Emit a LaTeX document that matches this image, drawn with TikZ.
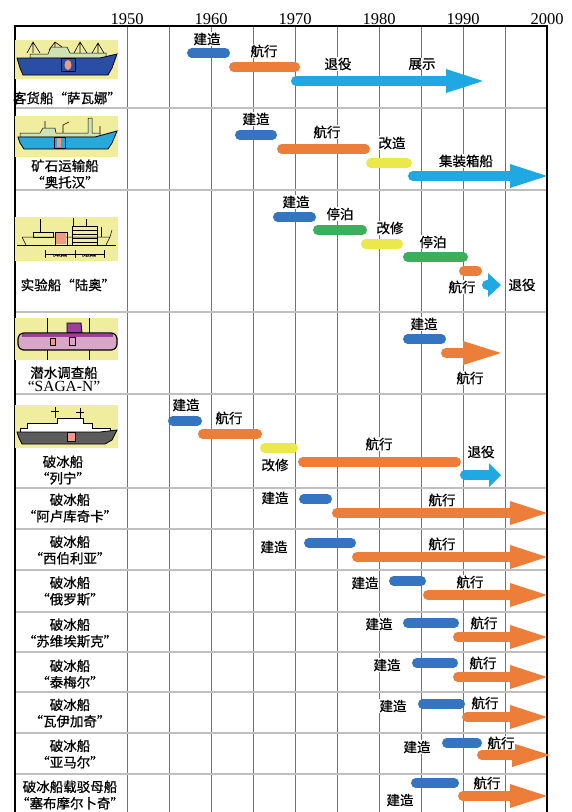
\documentclass[tikz,border=0pt]{standalone}
\usepackage{fontspec}
\setmainfont{Noto Sans CJK SC}[FakeBold=0.7]
\newfontfamily\yearfont{Liberation Serif}

\definecolor{cBuild}{HTML}{3474C0}
\definecolor{cSail}{HTML}{EC7E3A}
\definecolor{cRetire}{HTML}{1FA8E1}
\definecolor{cDock}{HTML}{3BAF5C}
\definecolor{cRefit}{HTML}{EBE84C}
\definecolor{cPanel}{HTML}{F1ED9F}
\definecolor{cHouse}{HTML}{CFE2B4}
\definecolor{cSavHull}{HTML}{2B4EA5}
\definecolor{cOttoHull}{HTML}{29A8DC}
\definecolor{cReactor}{HTML}{F09A86}
\definecolor{cSubBody}{HTML}{D8A6C6}
\definecolor{cSubTop}{HTML}{9B3F9B}
\definecolor{cLeninHull}{HTML}{5C5C5C}

\tikzset{
  phase/.style={line width=9.5pt,line cap=round},
  stage/.style={font=\fontsize{13.5}{15}\selectfont,fill=white,inner sep=0.5pt},
  shipname/.style={font=\fontsize{13.5}{16.5}\selectfont,align=center,inner sep=0pt},
  yearlabel/.style={font=\yearfont\fontsize{16.5}{16.5}\selectfont,inner sep=0pt},
  vgrid/.style={draw=black!55,line width=0.6pt},
  hgrid/.style={draw=black!25,line width=1.2pt},
}

% one stage of a ship's life: colour, left end, right end, height
\newcommand{\phasebar}[4]{\draw[phase,#1] ({#2+4.75},#4) -- ({#3-4.75},#4);}
% fat arrow: colour, left end, head base, tip, height
\newcommand{\shiparrow}[5]{%
  \draw[line width=10pt,line cap=round,#1] ({#2+5},#5) -- (#3,#5);
  \fill[#1] (#3,{#5-12}) -- (#4,#5) -- (#3,{#5+12}) -- cycle;}

\begin{document}
\begin{tikzpicture}[x=1pt,y=-1pt]
\useasboundingbox (0,0) rectangle (571,812);
\clip (0,0) rectangle (571,812);

% grid
\draw[vgrid](127,26)--(127,812);
\draw[vgrid](169,26)--(169,812);
\draw[vgrid](211,26)--(211,812);
\draw[vgrid](253,26)--(253,812);
\draw[vgrid](295,26)--(295,812);
\draw[vgrid](337,26)--(337,812);
\draw[vgrid](379,26)--(379,812);
\draw[vgrid](421,26)--(421,812);
\draw[vgrid](463,26)--(463,812);
\draw[vgrid](505,26)--(505,812);
\draw[hgrid](15,108)--(547,108);
\draw[hgrid](15,190)--(547,190);
\draw[hgrid](15,312)--(547,312);
\draw[hgrid](15,394)--(547,394);
\draw[hgrid](15,488)--(547,488);
\draw[hgrid](15,529)--(547,529);
\draw[hgrid](15,570)--(547,570);
\draw[hgrid](15,612)--(547,612);
\draw[hgrid](15,652)--(547,652);
\draw[hgrid](15,692)--(547,692);
\draw[hgrid](15,733)--(547,733);
\draw[hgrid](15,774)--(547,774);
\draw[line width=1.5pt](15,812)--(15,26)--(547,26)--(547,812);

\node[yearlabel] (y1950) at (127,19) {1950};
\node[yearlabel] (y1960) at (211,19) {1960};
\node[yearlabel] (y1970) at (295,19) {1970};
\node[yearlabel] (y1980) at (379,19) {1980};
\node[yearlabel] (y1990) at (463,19) {1990};
\node[yearlabel] (y2000) at (547,19) {2000};

% cargo liner
\fill[cPanel](15,40) rectangle (118,79);
\draw[line width=0.6pt](33,53)--(33,42) (27,53)--(33,42)--(40,53)
  (55,47)--(55,42) (49,50)--(55,42)--(62,47)
  (80,53)--(80,42) (74,53)--(80,42)--(87,53)
  (98,53)--(98,43) (92,53)--(98,43)--(104,53);
\draw[fill=cHouse,line width=0.5pt](30,58)--(30,54)--(48,54)--(51,47)--(67,47)--(70,53)--(106,53)--(106,58)--cycle;
\draw[fill=cSavHull,line width=0.8pt](17,58)--(100,58)--(117,54)--(112,68)--(108,75)--(23,75)--(20,68)--cycle;
\draw[line width=0.5pt](61,58) rectangle (75,71);
\fill[cReactor](68,65) ellipse (3.5 and 5);
\node[shipname] (savannah) at (67,98) {客货船“萨瓦娜”};

% ore carrier
\fill[cPanel](15,116) rectangle (118,157);
\draw[line width=0.6pt](45,128)--(45,121) (63,133)--(63,125)--(69,122) (100,133)--(100,126);
\draw[fill=cHouse,line width=0.5pt](20,137)--(20,133)--(40,133)--(43,128)--(55,128)--(56,133)--(88,133)--(88,118)--(92,118)--(92,133)--(100,133)--(100,137)--cycle;
\draw[fill=cOttoHull,line width=0.8pt](18,137)--(95,137)--(117,131)--(112,143)--(108,149)--(24,149)--(20,143)--cycle;
\draw[line width=0.5pt](54,137) rectangle (65,148);
\fill[cReactor](57,138) rectangle (61,147);
\node[shipname] (ottohahn) at (65,174) {矿石运输船\\“奥托汉”};

% research ship, line drawing
\fill[cPanel](15,217) rectangle (118,261);
\begin{scope}[line width=0.5pt]
\draw(17,245)--(116,245);
\draw(22,237)--(110,237) (22,237)--(26,245) (110,237)--(106,245) (110,237)--(112,230);
\draw(33,232) rectangle (53,237) (72,226) rectangle (97,245);
\draw(72,230)--(97,230) (72,234)--(97,234) (72,238)--(97,238) (72,242)--(97,242);
\draw(40,232)--(40,219) (73,226)--(73,218) (86,226)--(86,219) (101,237)--(101,227);
\fill[cReactor](56,233) rectangle (66,244);
\draw(55,232) rectangle (67,245);
\draw(45,254)--(104,254) (45,250)--(45,258) (75,250)--(75,258) (104,250)--(104,258);
\end{scope}
\node[font=\fontsize{3}{3}\selectfont,inner sep=0pt] (mutsuLa) at (60,255.5) {L=40.80m};
\node[font=\fontsize{3}{3}\selectfont,inner sep=0pt] (mutsuLb) at (89,255.5) {L=23.00m};
\node[shipname] (mutsu) at (68,285) {实验船“陆奥”};

% submersible
\fill[cPanel](15,318) rectangle (118,360);
\draw[line width=0.8pt](47,318)--(47,360) (89,318)--(89,360);
\draw[fill=cSubTop,line width=0.8pt](67,333)--(67,323)--(81,323)--(82,333)--cycle;
\draw[fill=cSubBody,line width=1.2pt,rounded corners=6pt](18,333) rectangle (117,350);
\fill[cSubTop](22,333.6) rectangle (113,336.5);
\draw[fill=cReactor,line width=0.5pt](50,338) rectangle (55,345);
\draw[line width=0.6pt](69,337) rectangle (75,345);
\node[shipname] (sagan) at (64,379) {潜水调查船\\[-3pt]{\yearfont\fontsize{15.5}{15.5}\selectfont “SAGA-N”}};

% nuclear icebreaker
\fill[cPanel](15,405) rectangle (118,448);
\draw[line width=0.6pt](55,418)--(55,407) (80,418)--(80,408) (51,411)--(59,411) (76,412)--(84,412);
\draw[fill=white,line width=0.5pt](20,432)--(20,428)--(27,428)--(27,423)--(57,423)--(57,418)--(83,418)--(83,423)--(92,423)--(92,428)--(110,428)--(110,432)--cycle;
\draw[fill=cLeninHull,line width=0.8pt](17,432)--(100,432)--(117,430)--(112,440)--(105,444)--(22,444)--(19,438)--cycle;
\draw[fill=cReactor,line width=0.5pt](67,432) rectangle (75,441);
\node[shipname] (lenin) at (63,470) {破冰船\\“列宁”};

\node[shipname] (arktika) at (70,508) {破冰船\\“阿卢库奇卡”};
\node[shipname] (sibir) at (70,550) {破冰船\\“西伯利亚”};
\node[shipname] (rossiya) at (70,591) {破冰船\\“俄罗斯”};
\node[shipname] (soyuz) at (70,633) {破冰船\\“苏维埃斯克”};
\node[shipname] (taymyr) at (70,674) {破冰船\\“泰梅尔”};
\node[shipname] (vaygach) at (70,713) {破冰船\\“瓦伊加奇”};
\node[shipname] (yamal) at (70,754) {破冰船\\“亚马尔”};
\node[shipname] (sevmorput) at (70,795) {破冰船载驳母船\\“塞布摩尔卜奇”};

% timelines
\phasebar{cBuild}{187}{230}{53}
\phasebar{cSail}{229}{300}{67}
\shiparrow{cRetire}{291}{446}{483}{81}
\node[stage] (savBuild) at (207,39) {建造};
\node[stage] (savSail) at (264,51) {航行};
\node[stage] (savRetire) at (338,64) {退役};
\node[stage] (savShow) at (422,64) {展示};

\phasebar{cBuild}{235}{277}{135}
\phasebar{cSail}{277}{370}{149}
\phasebar{cRefit}{366}{412}{163}
\shiparrow{cRetire}{408}{510}{547}{176}
\node[stage] (ottoBuild) at (256,119) {建造};
\node[stage] (ottoSail) at (327,132) {航行};
\node[stage] (ottoRefit) at (392,143) {改造};
\node[stage] (ottoBox) at (466,161) {集装箱船};

\phasebar{cBuild}{273}{316}{217}
\phasebar{cDock}{313}{367}{230}
\phasebar{cRefit}{361}{403}{244}
\phasebar{cDock}{403}{468}{257}
\phasebar{cSail}{459}{482}{271}
\shiparrow{cRetire}{482}{488}{501}{285}
\node[stage] (mutsuBuild) at (296,202) {建造};
\node[stage] (mutsuDockA) at (340,214) {停泊};
\node[stage] (mutsuRefit) at (390,228) {改修};
\node[stage] (mutsuDockB) at (433,242) {停泊};
\node[stage] (mutsuSail) at (462,287) {航行};
\node[stage] (mutsuRetire) at (522,285) {退役};

\phasebar{cBuild}{403}{446}{339}
\shiparrow{cSail}{441}{463}{501}{353}
\node[stage] (sagaBuild) at (424,324) {建造};
\node[stage] (sagaSail) at (470,378) {航行};

\phasebar{cBuild}{168}{202}{421}
\phasebar{cSail}{198}{262}{434}
\phasebar{cRefit}{260}{298}{448}
\phasebar{cSail}{298}{461}{462}
\shiparrow{cRetire}{460}{489}{501}{475}
\node[stage] (leninBuild) at (186,405) {建造};
\node[stage] (leninSailA) at (229,418) {航行};
\node[stage] (leninRefit) at (275,465) {改修};
\node[stage] (leninSailB) at (379,444) {航行};
\node[stage] (leninRetire) at (481,452) {退役};

\phasebar{cBuild}{299}{332}{499}
\shiparrow{cSail}{332}{510}{547}{513}
\node[stage] (arkBuild) at (275,498) {建造};
\node[stage] (arkSail) at (442,500) {航行};

\phasebar{cBuild}{304}{356}{543}
\shiparrow{cSail}{352}{510}{547}{557}
\node[stage] (sibBuild) at (274,547) {建造};
\node[stage] (sibSail) at (442,544) {航行};

\phasebar{cBuild}{389}{426}{581}
\shiparrow{cSail}{423}{510}{547}{595}
\node[stage] (rosBuild) at (365,583) {建造};
\node[stage] (rosSail) at (470,582) {航行};

\phasebar{cBuild}{403}{459}{623}
\shiparrow{cSail}{453}{510}{547}{637}
\node[stage] (soyBuild) at (379,624) {建造};
\node[stage] (soySail) at (484,623) {航行};

\phasebar{cBuild}{412}{458}{663}
\shiparrow{cSail}{453}{510}{547}{677}
\node[stage] (taiBuild) at (387,665) {建造};
\node[stage] (taiSail) at (483,663) {航行};

\phasebar{cBuild}{418}{465}{704}
\shiparrow{cSail}{462}{510}{547}{717}
\node[stage] (vayBuild) at (393,706) {建造};
\node[stage] (vaySail) at (485,703) {航行};

\phasebar{cBuild}{442}{482}{743}
\shiparrow{cSail}{477}{512}{550}{755}
\node[stage] (yamBuild) at (417,747) {建造};
\node[stage] (yamSail) at (501,743) {航行};

\phasebar{cBuild}{411}{459}{783}
\shiparrow{cSail}{458}{510}{547}{796}
\node[stage] (sevBuild) at (400,800) {建造};
\node[stage] (sevSail) at (487,783) {航行};
\end{tikzpicture}
\end{document}
